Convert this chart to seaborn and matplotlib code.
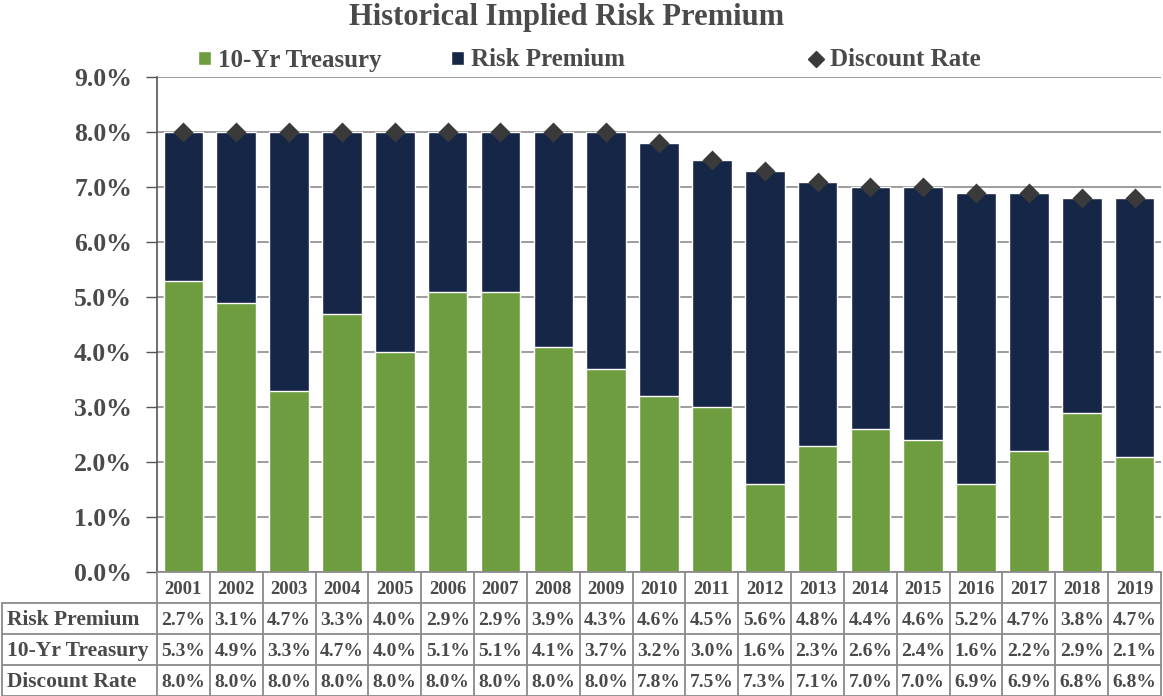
import numpy as np
import pandas as pd
import matplotlib
matplotlib.use("Agg")
import matplotlib.pyplot as plt
import seaborn as sns
from matplotlib.patches import Patch
from matplotlib.lines import Line2D

years = [str(y) for y in range(2001, 2020)]
risk_premium = [2.7, 3.1, 4.7, 3.3, 4.0, 2.9, 2.9, 3.9, 4.3, 4.6, 4.5, 5.6, 4.8, 4.4, 4.6, 5.2, 4.7, 3.8, 4.7]
treasury = [5.3, 4.9, 3.3, 4.7, 4.0, 5.1, 5.1, 4.1, 3.7, 3.2, 3.0, 1.6, 2.3, 2.6, 2.4, 1.6, 2.2, 2.9, 2.1]
discount = [8.0, 8.0, 8.0, 8.0, 8.0, 8.0, 8.0, 8.0, 8.0, 7.8, 7.5, 7.3, 7.1, 7.0, 7.0, 6.9, 6.9, 6.8, 6.8]
row_labels = ["Risk Premium", "10-Yr Treasury", "Discount Rate"]

df = pd.DataFrame({"Year": years, "Risk Premium": risk_premium,
                   "10-Yr Treasury": treasury, "Discount Rate": discount})

green = "#6e9d3f"
navy = "#162647"
txt = "#4a4a4a"
grid_c = "#8c8c8c"

sns.set_style("white")
plt.rcParams["font.family"] = ["Liberation Serif", "DejaVu Serif"]
plt.rcParams["font.weight"] = "bold"

W, H = 1163, 696
fig = plt.figure(figsize=(W / 100, H / 100), dpi=100)
fig.patch.set_facecolor("white")
left_px, right_px = 157, 1161
bottom_frac = 124 / H
ax = fig.add_axes([left_px / W, bottom_frac, (right_px - left_px) / W, (572 - 77) / H])

# stacked bars: full discount rate in navy, treasury on top in green
sns.barplot(data=df, x="Year", y="Discount Rate", color=navy, width=0.75,
            saturation=1, ax=ax, zorder=2)
sns.barplot(data=df, x="Year", y="10-Yr Treasury", color=green, width=0.75,
            saturation=1, ax=ax, zorder=3)
sns.pointplot(data=df, x="Year", y="Discount Rate", color="#3a3a3a",
              linestyle="none", marker="D", markersize=8.5, ax=ax, zorder=4)

ax.set_xlim(-0.5, len(years) - 0.5)
ax.set_ylim(0, 9)
ax.set_yticks(np.arange(0, 10, 1))
ax.set_yticklabels([f"{v:.1f}%" for v in np.arange(0, 10, 1)], fontsize=18.5,
                   color=txt, fontweight="bold")
ax.yaxis.grid(True, color=grid_c, linewidth=1.2)
ax.set_axisbelow(True)
ax.tick_params(axis="x", bottom=False, labelbottom=False)
ax.tick_params(axis="y", left=True, length=8, width=1, color="#555555", pad=10)
ax.set_xlabel("")
ax.set_ylabel("")
for s in ["top", "right", "bottom"]:
    ax.spines[s].set_visible(False)
ax.spines["left"].set_color("#555555")
ax.spines["left"].set_linewidth(1.2)

fig.text(567 / W, 1 - 17 / H, "Historical Implied Risk Premium", ha="center",
         va="center", fontsize=22, color=txt, fontweight="bold")

# legend entries placed individually, like the spreadsheet legend
legend_items = [
    (Patch(facecolor=green), "10-Yr Treasury", 198),
    (Patch(facecolor=navy), "Risk Premium", 451),
    (Line2D([], [], linestyle="none", marker="D", color="#3a3a3a", markersize=8), "Discount Rate", 810),
]
for handle, label, xpx in legend_items:
    leg = fig.legend([handle], [label], loc="center left",
                     bbox_to_anchor=(xpx / W, 1 - 60 / H), frameon=False,
                     fontsize=18, handlelength=0.5, handleheight=0.5,
                     handletextpad=0.3, borderaxespad=0, borderpad=0)
    for t in leg.get_texts():
        t.set_color(txt)

# data table beneath the chart
tax = fig.add_axes([left_px / W, 0, (right_px - left_px) / W, bottom_frac])
tax.set_xlim(-0.5, len(years) - 0.5)
tax.set_ylim(4, 0)
tax.axis("off")
col_px = (right_px - left_px) / len(years)
lab_left = -0.5 - (left_px - 2) / col_px
line_kw = dict(color="#8a8a8a", linewidth=1.3, clip_on=False)
n = len(years)
for r in range(5):
    x0 = -0.5 if r == 0 else lab_left
    tax.plot([x0, n - 0.5], [r, r], **line_kw)
for c in range(n + 1):
    tax.plot([c - 0.5, c - 0.5], [0, 4], **line_kw)
tax.plot([lab_left, lab_left], [1, 4], **line_kw)

for i, y in enumerate(years):
    tax.text(i, 0.55, y, ha="center", va="center", fontsize=13.5, color=txt,
             fontweight="bold")
rows = [risk_premium, treasury, discount]
for r, (lab, vals) in enumerate(zip(row_labels, rows), start=1):
    tax.text(lab_left + 0.1, r + 0.55, lab, ha="left", va="center", fontsize=15.5,
             color=txt, fontweight="bold", clip_on=False)
    for i, v in enumerate(vals):
        tax.text(i, r + 0.55, f"{v:.1f}%", ha="center", va="center", fontsize=14,
                 color=txt, fontweight="bold")

fig.savefig("out.png", dpi=100, facecolor="white")
